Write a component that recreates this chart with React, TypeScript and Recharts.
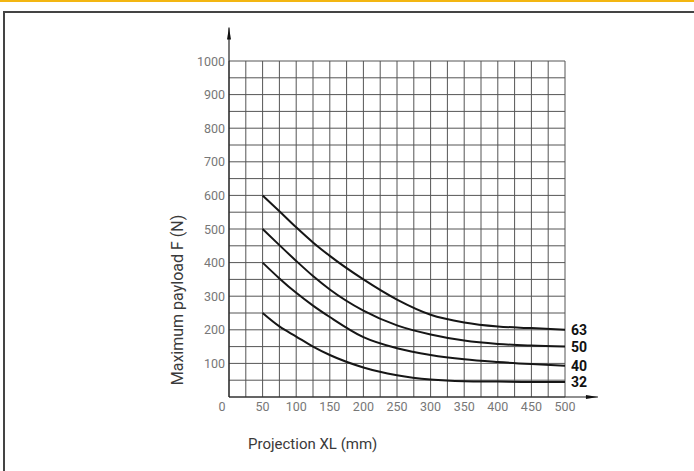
import React from "react";
import { LineChart, Line, XAxis, YAxis, CartesianGrid, ReferenceLine } from "recharts";

const projection = [50, 75, 100, 125, 150, 200, 250, 300, 350, 400, 450, 500];
const bore63 = [600, 553, 505, 460, 420, 350, 290, 245, 222, 210, 205, 200];
const bore50 = [500, 452, 405, 360, 320, 257, 213, 186, 168, 158, 153, 150];
const bore40 = [400, 353, 310, 272, 238, 178, 145, 125, 112, 104, 98, 93];
const bore32 = [250, 210, 180, 150, 125, 88, 65, 52, 47, 46, 45, 45];

const seriesNames = ["63", "50", "40", "32"];
const xTicks = [0, 25, 50, 75, 100, 125, 150, 175, 200, 225, 250, 275, 300, 325, 350, 375, 400, 425, 450, 475, 500];
const yTicks = [0, 50, 100, 150, 200, 250, 300, 350, 400, 450, 500, 550, 600, 650, 700, 750, 800, 850, 900, 950, 1000];

const data = projection.map((x, i) => ({
    x,
    s63: bore63[i],
    s50: bore50[i],
    s40: bore40[i],
    s32: bore32[i],
}));

const font = "Roboto, 'Liberation Sans', sans-serif";

const XTick = (props: any) => {
    const { x, y, payload } = props;
    const v = payload.value;
    if (v % 50 !== 0) return <g />;
    return (
        <text x={v === 0 ? x - 7 : x} y={y} dy={14} textAnchor="middle" fill="#777" fontSize={12.5} fontFamily={font}>
            {v}
        </text>
    );
};

const YTick = (props: any) => {
    const { x, y, payload } = props;
    const v = payload.value;
    if (v === 0 || v % 100 !== 0) return <g />;
    return (
        <text x={x - 4} y={y} dy={4.5} textAnchor="end" fill="#777" fontSize={12.5} fontFamily={font}>
            {v}
        </text>
    );
};

const endLabel = (name: string) => (props: any) => {
    const { x, y, index } = props;
    if (index !== projection.length - 1) return null;
    return (
        <text x={x + 6} y={y} dy={5} fill="#111" fontSize={14} fontWeight="bold" fontFamily={font}>
            {name}
        </text>
    );
};

const ArrowLine = (dir: "x" | "y") => (props: any) => {
    const { x1, y1, x2, y2 } = props;
    const head =
        dir === "x"
            ? `${x2},${y2} ${x2 - 12},${y2 - 2} ${x2 - 12},${y2 + 2}`
            : `${x2},${y2} ${x2 - 2},${y2 + 12} ${x2 + 2},${y2 + 12}`;
    return (
        <g>
            <line x1={x1} y1={y1} x2={x2} y2={y2} stroke="#222" strokeWidth={1.2} />
            <polygon points={head} fill="#111" />
        </g>
    );
};

export default function App() {
    return (
        <div style={{ position: "absolute", left: 0, top: 0, width: 694, height: 471, background: "#fff", overflow: "hidden" }}>
            <div style={{ position: "absolute", left: 0, top: 0, width: 694, height: 2, background: "#f3b612" }} />
            <div
                style={{
                    position: "absolute",
                    left: 3,
                    top: 11,
                    width: 720,
                    height: 500,
                    borderLeft: "2px solid #444",
                    borderTop: "2px solid #444",
                }}
            />
            <div style={{ position: "absolute", left: 0, top: 0 }}>
                <LineChart width={694} height={471} data={data} margin={{ top: 61, right: 129, bottom: 44, left: 189 }}>
                    <CartesianGrid stroke="#555" strokeWidth={1} />
                    <XAxis
                        dataKey="x"
                        type="number"
                        domain={[0, 500]}
                        ticks={xTicks}
                        interval={0}
                        height={30}
                        axisLine={false}
                        tickLine={false}
                        tickSize={0}
                        tickMargin={0}
                        tick={<XTick />}
                    />
                    <YAxis
                        type="number"
                        domain={[0, 1000]}
                        ticks={yTicks}
                        interval={0}
                        width={40}
                        axisLine={false}
                        tickLine={false}
                        tickSize={0}
                        tickMargin={0}
                        tick={<YTick />}
                    />
                    <ReferenceLine
                        segment={[{ x: 0, y: 0 }, { x: 549, y: 0 }]}
                        ifOverflow="visible"
                        shape={ArrowLine("x")}
                    />
                    <ReferenceLine
                        segment={[{ x: 0, y: 0 }, { x: 0, y: 1100 }]}
                        ifOverflow="visible"
                        shape={ArrowLine("y")}
                    />
                    <Line type="monotone" dataKey="s63" stroke="#161616" strokeWidth={2} dot={false} isAnimationActive={false} label={endLabel(seriesNames[0])} />
                    <Line type="monotone" dataKey="s50" stroke="#161616" strokeWidth={2} dot={false} isAnimationActive={false} label={endLabel(seriesNames[1])} />
                    <Line type="monotone" dataKey="s40" stroke="#161616" strokeWidth={2} dot={false} isAnimationActive={false} label={endLabel(seriesNames[2])} />
                    <Line type="monotone" dataKey="s32" stroke="#161616" strokeWidth={2} dot={false} isAnimationActive={false} label={endLabel(seriesNames[3])} />
                </LineChart>
            </div>
            <div
                style={{
                    position: "absolute",
                    left: 177,
                    top: 300,
                    transform: "translate(-50%, -50%) rotate(-90deg)",
                    fontSize: 16,
                    color: "#3a3a3a",
                    fontFamily: font,
                    whiteSpace: "nowrap",
                }}
            >
                Maximum payload F (N)
            </div>
            <div
                style={{
                    position: "absolute",
                    left: 248,
                    top: 435,
                    fontSize: 15,
                    color: "#3a3a3a",
                    fontFamily: font,
                    whiteSpace: "nowrap",
                }}
            >
                Projection XL (mm)
            </div>
        </div>
    );
}
